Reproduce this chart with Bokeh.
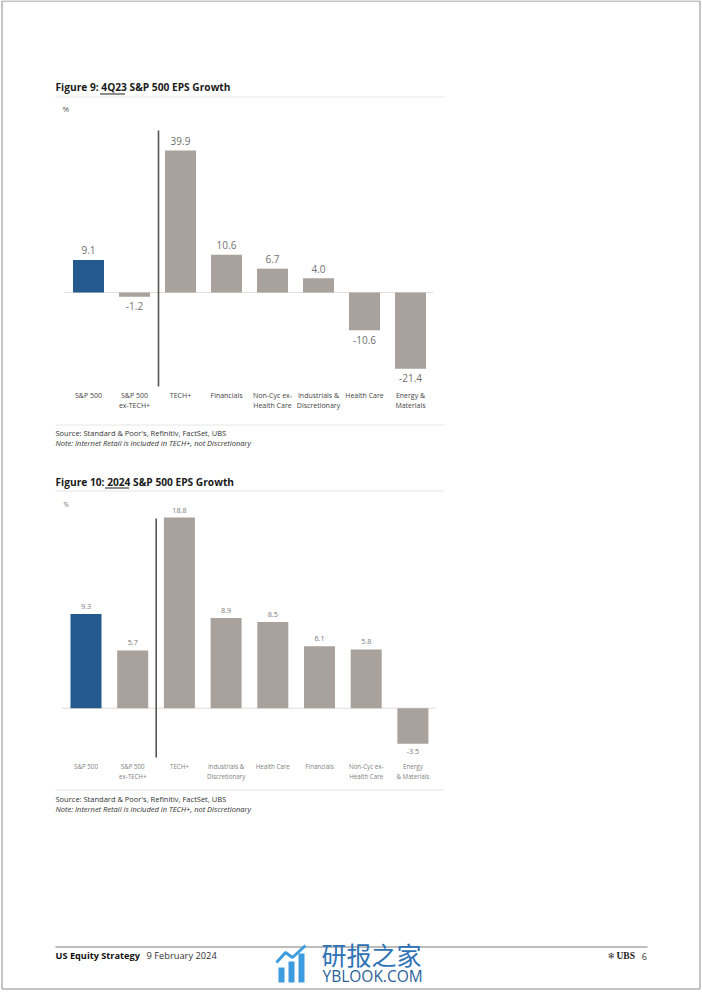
from bokeh.plotting import figure
from bokeh.models import Range1d
from bokeh.core.properties import value
from bokeh.embed import file_html
from bokeh.resources import INLINE

# ---------------- data ----------------
cats_fig9 = ["S&P 500", "S&P 500\nex-TECH+", "TECH+", "Financials",
             "Non-Cyc ex-\nHealth Care", "Industrials &\nDiscretionary",
             "Health Care", "Energy &\nMaterials"]
eps_4q23 = [9.1, -1.2, 39.9, 10.6, 6.7, 4.0, -10.6, -21.4]

cats_fig10 = ["S&P 500", "S&P 500\nex-TECH+", "TECH+", "Industrials &\nDiscretionary",
              "Health Care", "Financials", "Non-Cyc ex-\nHealth Care", "Energy\n& Materials"]
eps_2024 = [9.3, 5.7, 18.8, 8.9, 8.5, 6.1, 5.8, -3.5]

title9 = "Figure 9: 4Q23 S&P 500 EPS Growth"
title10 = "Figure 10: 2024 S&P 500 EPS Growth"
source_txt = "Source: Standard & Poor's, Refinitiv, FactSet, UBS"
note_txt = "Note: Internet Retail is included in TECH+, not Discretionary"

# ---------------- layout ----------------
W, H = 701, 991
FONT = value("Open Sans")
BLUE = "#245a8d"
GREY = "#a9a19b"

p = figure(width=W, height=H, x_range=Range1d(0, W), y_range=Range1d(H, 0),
           output_backend="svg", toolbar_location=None, min_border=0,
           background_fill_color="white", border_fill_color="white")
p.axis.visible = False
p.grid.visible = False
p.outline_line_color = None

# page frame
p.line(x=[1.5, 699.5, 699.5, 1.5, 1.5], y=[0.5, 0.5, 988.5, 988.5, 0.5],
       line_color="#8a8a8a", line_width=1)


def txt(x, y, s, size, color="#222222", style="normal", align="left",
        baseline="middle", font=FONT):
    p.text(x=[x], y=[y], text=[s], text_font=font, text_font_size=f"{size}px",
           text_font_style=style, text_color=color, text_align=align,
           text_baseline=baseline)


def hline(x0, x1, y, color, width=1.0):
    p.segment(x0=[x0], y0=[y], x1=[x1], y1=[y], line_color=color, line_width=width)


def chart(name, cats, vals, zero_y, k, x0, dx, bar_w, val_size, val_off, val_color,
          cat_size, cat_top, cat_color, cat_lh, divider):
    p.extra_y_ranges[name] = Range1d(start=-(H - zero_y) / k, end=zero_y / k)
    p.extra_x_ranges[name] = Range1d(start=-x0 / dx, end=(W - x0) / dx)
    idx = list(range(len(cats)))
    colors = [BLUE if i == 0 else GREY for i in idx]
    # zero line
    p.segment(x0=[-0.52], y0=[0], x1=[len(cats) - 0.5], y1=[0], line_color="#e2ddd8",
              line_width=1, x_range_name=name, y_range_name=name)
    p.vbar(x=idx, top=vals, bottom=0, width=bar_w / dx, fill_color=colors,
           line_color=None, x_range_name=name, y_range_name=name)
    # divider
    p.segment(x0=[divider[0]], y0=[divider[1]], x1=[divider[0]], y1=[divider[2]],
              line_color="#555555", line_width=1.6)
    # value labels
    ly = [v + val_off / k if v >= 0 else v - val_off / k for v in vals]
    p.text(x=idx, y=ly, text=[f"{v:.1f}" for v in vals], text_font=FONT,
           text_font_size=f"{val_size}px", text_color=val_color, text_align="center",
           text_baseline="middle", x_range_name=name, y_range_name=name)
    # category labels
    p.text(x=idx, y=[cat_top] * len(cats), text=cats, text_font=FONT,
           text_font_size=f"{cat_size}px", text_color=cat_color, text_align="center",
           text_baseline="top", text_line_height=cat_lh, x_range_name=name)


# ---- Figure 9 ----
txt(55, 86.5, title9, 10.2, color="#1a1a1a", style="bold")
hline(99.5, 124.5, 93.5, "#1a1a1a", 1.2)
hline(55, 444, 96.5, "#e6e6e6")
txt(62, 108, "%", 8, color="#555555")
chart("c9", cats_fig9, eps_4q23, zero_y=292, k=3.56, x0=88, dx=46, bar_w=31,
      val_size=10, val_off=9.7, val_color="#707070", cat_size=7, cat_top=390.5,
      cat_color="#444444", cat_lh=1.1, divider=(158, 130, 386))
hline(55, 444, 424.5, "#e6e6e6")
txt(55, 432.5, source_txt, 7.5, color="#333333")
txt(55, 442.5, note_txt, 7.5, color="#333333", style="italic")

# ---- Figure 10 ----
txt(55, 481, title10, 10.2, color="#1a1a1a", style="bold")
hline(104.5, 128.5, 487.5, "#1a1a1a", 1.2)
hline(55, 444, 490.5, "#e6e6e6")
txt(63, 503.5, "%", 6.5, color="#777777")
chart("c10", cats_fig10, eps_2024, zero_y=707.7, k=10.14, x0=85.5, dx=46.7, bar_w=31,
      val_size=7.2, val_off=7.5, val_color="#7a7a7a", cat_size=6.2, cat_top=761.5,
      cat_color="#808080", cat_lh=1.12, divider=(155.7, 518, 757))
hline(55, 444, 789.5, "#e6e6e6")
txt(55, 798.5, source_txt, 7.5, color="#333333")
txt(55, 808.5, note_txt, 7.5, color="#333333", style="italic")

# ---- footer ----
hline(55, 647, 946.5, "#7a7a7a", 1.2)
txt(55, 955, "US Equity Strategy", 9.2, color="#111111", style="bold")
txt(146, 955, "9 February 2024", 9.3, color="#333333")
txt(607, 955.5, "\u2744", 9, color="#333333", font=value("DejaVu Sans"))
txt(616, 955.5, "UBS", 9.5, color="#222222", style="bold", font=value("Liberation Serif"))
txt(646.5, 955.5, "6", 9, color="#333333", align="right")

# watermark
wm_light = "#3d9be0"
for (bx0, bx1, btop) in [(278, 284, 967), (288, 294, 961), (298, 304, 953)]:
    p.quad(left=[bx0], right=[bx1], top=[btop], bottom=[982],
           fill_color=wm_light, line_color=None)
p.line(x=[276, 285, 292, 305], y=[962, 952, 957, 945],
       line_color=wm_light, line_width=3)
txt(321, 953, "研报之家", 25, color="#2f72b5", font=value("Noto Sans CJK SC"))
txt(322, 975, "YBLOOK.COM", 15.5, color="#2c5f98")

open("out.html", "w").write(file_html(p, INLINE))
